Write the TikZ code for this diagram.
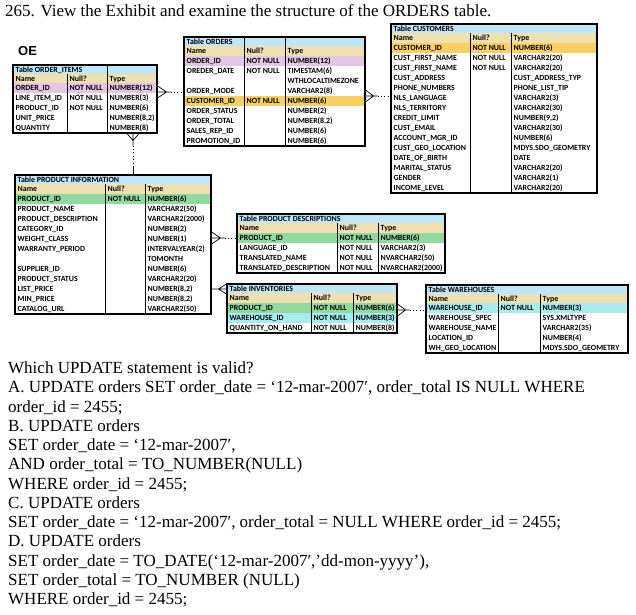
\documentclass[tikz,border=0pt]{standalone}
\usepackage{fontspec}
\setmainfont{Liberation Serif}
\newfontfamily\cellfam{Carlito}
\newfontfamily\oefam{Liberation Sans}
\usetikzlibrary{fit,calc}
\definecolor{tblue}{HTML}{BEE6F7}
\definecolor{ttan}{HTML}{F0DFAF}
\definecolor{tpink}{HTML}{E5C5E5}
\definecolor{torange}{HTML}{F8D062}
\definecolor{tgreen}{HTML}{90D9A0}
\definecolor{tcyan}{HTML}{A8ECEF}
\tikzset{
  cell/.style={anchor=base west,inner sep=0pt,font=\cellfam\bfseries\fontsize{7.9}{9}\selectfont},
  qline/.style={anchor=base west,inner sep=0pt,font=\fontsize{17}{19}\selectfont},
  rowline/.style={line width=0.6pt,draw=black!90},
  colline/.style={line width=0.8pt,draw=black},
  tblborder/.style={line width=1.1pt,draw=black,inner sep=0pt},
  rel/.style={line width=0.7pt,draw=black},
  reldot/.style={line width=0.8pt,draw=black,dash pattern=on 1pt off 2.4pt},
}
\newcounter{cellno}
\newcommand\cellnode[2]{\if\relax\detokenize{#2}\relax\else\stepcounter{cellno}\node[cell] (cell\thecellno) at #1 {#2};\fi}
\newcommand\tcols[4]{\def\cA{#1}\def\cB{#2}\def\cC{#3}\def\cD{#4}}
% title row: top, bottom, text
\newcommand\ttitle[3]{%
  \fill[tblue] (\cA,#1) rectangle (\cD,#2);
  \draw[rowline] (\cA,#2) -- (\cD,#2);
  \cellnode{({\cA+2.5},{#1+7.2})}{#3}}
% header row
\newcommand\thead[2]{%
  \fill[ttan] (\cA,#1) rectangle (\cD,#2);
  \draw[rowline] (\cA,#2) -- (\cD,#2);
  \cellnode{({\cA+2.5},{#1+7.4})}{Name}%
  \cellnode{({\cB+2.5},{#1+7.4})}{Null?}%
  \cellnode{({\cC+2.5},{#1+7.4})}{Type}}
% data row: top, bottom, fill, name, null, type
\newcommand\trow[6]{%
  \fill[#3] (\cA,#1) rectangle (\cD,#2);
  \draw[rowline] (\cA,#2) -- (\cD,#2);
  \cellnode{({\cA+2.5},{#1+7.6})}{#4}%
  \cellnode{({\cB+2.5},{#1+7.6})}{#5}%
  \cellnode{({\cC+2.5},{#1+7.6})}{#6}}
% second type line inside a double row
\newcommand\ttwo[2]{\cellnode{({\cC+2.5},{#1+7.6})}{#2}}
% dividers and border: name, table top, divider top, bottom
\newcommand\tborder[4]{%
  \draw[colline] (\cB,#3) -- (\cB,#4) (\cC,#3) -- (\cC,#4);
  \coordinate (#1-nw) at (\cA,#2);
  \coordinate (#1-se) at (\cD,#4);
  \node[tblborder,fit=(#1-nw)(#1-se)] (#1) {};}
\begin{document}
\begin{tikzpicture}[x=1pt,y=-1pt]
\useasboundingbox (0,0) rectangle (636,614);
\fill[white] (0,0) rectangle (636,614);

% heading
\node[qline] (head) at (5,16.5) {265. View the Exhibit and examine the structure of the ORDERS table.};
\node[anchor=base west,inner sep=0pt,font=\oefam\bfseries\fontsize{13}{15}\selectfont] (oe) at (18,55.5) {OE};

% ORDER_ITEMS
\tcols{13}{67}{107}{157}
\ttitle{65}{74}{Table ORDER\_ITEMS}
\thead{74}{83}
\trow{83}{93}{tpink}{ORDER\_ID}{NOT NULL}{NUMBER(12)}
\trow{93}{103}{white}{LINE\_ITEM\_ID}{NOT NULL}{NUMBER(3)}
\trow{103}{113}{white}{PRODUCT\_ID}{NOT NULL}{NUMBER(6)}
\trow{113}{123}{white}{UNIT\_PRICE}{}{NUMBER(8,2)}
\trow{123}{133}{white}{QUANTITY}{}{NUMBER(8)}
\draw[colline] (\cC,65) -- (\cC,74);
\tborder{orditems}{65}{74}{133}

% ORDERS
\tcols{184}{244}{285}{365}
\ttitle{37}{46}{Table ORDERS}
\thead{46}{56}
\trow{56}{66}{tpink}{ORDER\_ID}{NOT NULL}{NUMBER(12)}
\trow{66}{86}{white}{OREDER\_DATE}{NOT NULL}{TIMESTAM(6)}
\ttwo{76}{WTHLOCALTIMEZONE}
\trow{86}{96}{white}{ORDER\_MODE}{}{VARCHAR2(8)}
\trow{96}{106}{torange}{CUSTOMER\_ID}{NOT NULL}{NUMBER(6)}
\trow{106}{116}{white}{ORDER\_STATUS}{}{NUMBER(2)}
\trow{116}{126}{white}{ORDER\_TOTAL}{}{NUMBER(8,2)}
\trow{126}{136}{white}{SALES\_REP\_ID}{}{NUMBER(6)}
\trow{136}{146}{white}{PROMOTION\_ID}{}{NUMBER(6)}
\tborder{orders}{37}{37}{146}

% CUSTOMERS
\tcols{391}{470}{511}{597}
\ttitle{24}{33}{Table CUSTOMERS}
\thead{33}{43}
\trow{43}{53}{torange}{CUSTOMER\_ID}{NOT NULL}{NUMBER(6)}
\trow{53}{63}{white}{CUST\_FIRST\_NAME}{NOT NULL}{VARCHAR2(20)}
\trow{63}{73}{white}{CUST\_FIRST\_NAME}{NOT NULL}{VARCHAR2(20)}
\trow{73}{83}{white}{CUST\_ADDRESS}{}{CUST\_ADDRESS\_TYP}
\trow{83}{93}{white}{PHONE\_NUMBERS}{}{PHONE\_LIST\_TIP}
\trow{93}{103}{white}{NLS\_LANGUAGE}{}{VARCHAR2(3)}
\trow{103}{113}{white}{NLS\_TERRITORY}{}{VARCHAR2(30)}
\trow{113}{123}{white}{CREDIT\_LIMIT}{}{NUMBER(9,2)}
\trow{123}{133}{white}{CUST\_EMAIL}{}{VARCHAR2(30)}
\trow{133}{143}{white}{ACCOUNT\_MGR\_ID}{}{NUMBER(6)}
\trow{143}{153}{white}{CUST\_GEO\_LOCATION}{}{MDYS.SDO\_GEOMETRY}
\trow{153}{163}{white}{DATE\_OF\_BIRTH}{}{DATE}
\trow{163}{173}{white}{MARITAL\_STATUS}{}{VARCHAR2(20)}
\trow{173}{183}{white}{GENDER}{}{VARCHAR2(1)}
\trow{183}{193}{white}{INCOME\_LEVEL}{}{VARCHAR2(20)}
\tborder{customers}{24}{33}{193}

% PRODUCT INFORMATION
\tcols{15}{105}{145}{211}
\ttitle{175}{184}{Table PRODUCT INFORMATION}
\thead{184}{194}
\trow{194}{204}{tgreen}{PRODUCT\_ID}{NOT NULL}{NUMBER(6)}
\trow{204}{214}{white}{PRODUCT\_NAME}{}{VARCHAR2(50)}
\trow{214}{224}{white}{PRODUCT\_DESCRIPTION}{}{VARCHAR2(2000)}
\trow{224}{234}{white}{CATEGORY\_ID}{}{NUMBER(2)}
\trow{234}{244}{white}{WEIGHT\_CLASS}{}{NUMBER(1)}
\trow{244}{264}{white}{WARRANTY\_PERIOD}{}{INTERVALYEAR(2)}
\ttwo{254}{TOMONTH}
\trow{264}{274}{white}{SUPPLIER\_ID}{}{NUMBER(6)}
\trow{274}{284}{white}{PRODUCT\_STATUS}{}{VARCHAR2(20)}
\trow{284}{294}{white}{LIST\_PRICE}{}{NUMBER(8,2)}
\trow{294}{304}{white}{MIN\_PRICE}{}{NUMBER(8,2)}
\trow{304}{314}{white}{CATALOG\_URL}{}{VARCHAR2(50)}
\tborder{prodinfo}{175}{184}{314}

% PRODUCT DESCRIPTIONS
\tcols{237}{337}{378}{445}
\ttitle{214}{223}{Table PRODUCT DESCRIPTIONS}
\thead{223}{233}
\trow{233}{243}{tgreen}{PRODUCT\_ID}{NOT NULL}{NUMBER(6)}
\trow{243}{253}{white}{LANGUAGE\_ID}{NOT NULL}{VARCHAR2(3)}
\trow{253}{263}{white}{TRANSLATED\_NAME}{NOT NULL}{NVARCHAR2(50)}
\trow{263}{273}{white}{TRANSLATED\_DESCRIPTION}{NOT NULL}{NVARCHAR2(2000)}
\tborder{proddesc}{214}{223}{273}

% INVENTORIES
\tcols{227}{311}{353}{397}
\ttitle{284}{293}{Table INVENTORIES}
\thead{293}{303}
\trow{303}{313}{tgreen}{PRODUCT\_ID}{NOT NULL}{NUMBER(6)}
\trow{313}{323}{tcyan}{WAREHOUSE\_ID}{NOT NULL}{NUMBER(3)}
\trow{323}{333}{white}{QUANTITY\_ON\_HAND}{NOT NULL}{NUMBER(8)}
\tborder{inventories}{284}{293}{333}

% WAREHOUSES
\tcols{426}{498}{540}{628}
\ttitle{285}{294}{Table WAREHOUSES}
\thead{294}{303}
\trow{303}{313}{tcyan}{WAREHOUSE\_ID}{NOT NULL}{NUMBER(3)}
\trow{313}{323}{white}{WAREHOUSE\_SPEC}{}{SYS.XMLTYPE}
\trow{323}{333}{white}{WAREHOUSE\_NAME}{}{VARCHAR2(35)}
\trow{333}{343}{white}{LOCATION\_ID}{}{NUMBER(4)}
\trow{343}{353}{white}{WH\_GEO\_LOCATION}{}{MDYS.SDO\_GEOMETRY}
\tborder{warehouses}{285}{294}{353}

% relationships
\coordinate (r1a) at (orditems.east |- 0,92);
\coordinate (r1b) at (orders.west |- 0,92);
\draw[rel] ($(r1a)+(0,-6)$) -- ($(r1a)+(9,0)$) -- ($(r1a)+(0,6)$) (r1a) -- ($(r1a)+(13,0)$);
\draw[reldot] ($(r1a)+(13,0)$) -- (r1b);

\coordinate (r2a) at (orders.east |- 0,96);
\coordinate (r2b) at (customers.west |- 0,96);
\draw[rel] ($(r2a)+(0,-6)$) -- ($(r2a)+(8,0)$) -- ($(r2a)+(0,6)$) (r2a) -- ($(r2a)+(12,0)$);
\draw[reldot] ($(r2a)+(12,0)$) -- (r2b);

\coordinate (r3a) at (orditems.south -| 133,0);
\coordinate (r3b) at (prodinfo.north -| 133,0);
\draw[rel] ($(r3a)+(-6,0)$) -- ($(r3a)+(0,7)$) -- ($(r3a)+(6,0)$) (r3a) -- ($(r3a)+(0,12)$);
\draw[reldot] ($(r3a)+(0,12)$) -- ($(r3b)+(0,-7)$);
\draw[rel] ($(r3b)+(0,-7)$) -- (r3b);

\coordinate (r4a) at (prodinfo.east |- 0,238);
\coordinate (r4b) at (proddesc.west |- 0,238);
\draw[rel] ($(r4a)+(0,-6)$) -- ($(r4a)+(9,0)$) -- ($(r4a)+(0,6)$) (r4a) -- ($(r4a)+(13,0)$);
\draw[reldot] ($(r4a)+(13,0)$) -- (r4b);

\coordinate (r5a) at (prodinfo.east |- 0,289);
\coordinate (r5b) at (inventories.west |- 0,289);
\draw[rel] (r5a) -- (r5b) ($(r5b)+(0,-5)$) -- ($(r5b)+(-8,0)$) -- ($(r5b)+(0,5)$);

\coordinate (r6a) at (inventories.east |- 0,310);
\coordinate (r6b) at (warehouses.west |- 0,310);
\draw[rel] ($(r6a)+(0,-6)$) -- ($(r6a)+(8,0)$) -- ($(r6a)+(0,6)$) (r6a) -- ($(r6a)+(12,0)$);
\draw[reldot] ($(r6a)+(12,0)$) -- (r6b);

% question text
\node[qline] (q1)  at (8,373.5) {Which UPDATE statement is valid?};
\node[qline] (q2)  at (8,392.75) {A. UPDATE orders SET order\_date = ‘12-mar-2007′, order\_total IS NULL WHERE};
\node[qline] (q3)  at (8,412) {order\_id = 2455;};
\node[qline] (q4)  at (8,431.25) {B. UPDATE orders};
\node[qline] (q5)  at (8,450.5) {SET order\_date = ‘12-mar-2007′,};
\node[qline] (q6)  at (8,469.75) {AND order\_total = TO\_NUMBER(NULL)};
\node[qline] (q7)  at (8,489) {WHERE order\_id = 2455;};
\node[qline] (q8)  at (8,508.25) {C. UPDATE orders};
\node[qline] (q9)  at (8,527.5) {SET order\_date = ‘12-mar-2007′, order\_total = NULL WHERE order\_id = 2455;};
\node[qline] (q10) at (8,546.75) {D. UPDATE orders};
\node[qline] (q11) at (8,566) {SET order\_date = TO\_DATE(‘12-mar-2007′,’dd-mon-yyyy’),};
\node[qline] (q12) at (8,585.25) {SET order\_total = TO\_NUMBER (NULL)};
\node[qline] (q13) at (8,604.5) {WHERE order\_id = 2455;};
\end{tikzpicture}
\end{document}
